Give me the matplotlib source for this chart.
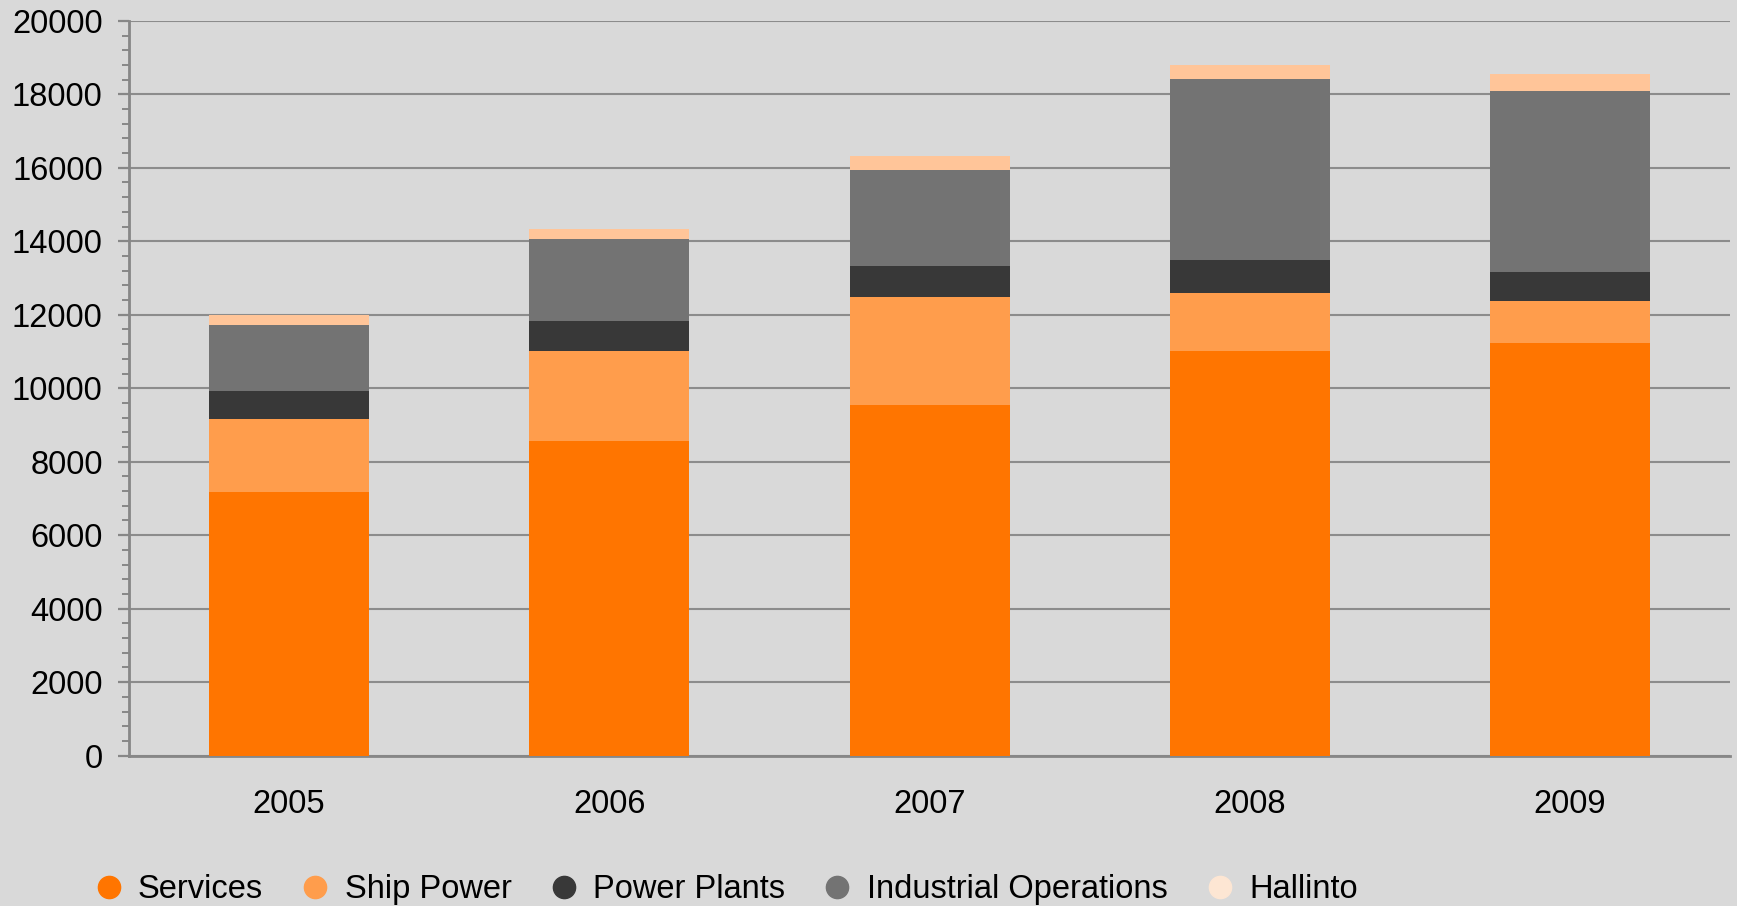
import numpy as np
import matplotlib
matplotlib.use("Agg")
import matplotlib.pyplot as plt
from matplotlib.lines import Line2D
from matplotlib.ticker import MultipleLocator

plt.rcParams['font.family'] = ['Liberation Sans', 'DejaVu Sans']

# data (segment heights)
years = ['2005', '2006', '2007', '2008', '2009']
services = [7170, 8550, 9550, 11010, 11230]
ship_power = [1980, 2470, 2920, 1580, 1140]
power_plants = [770, 820, 870, 910, 805]
industrial_ops = [1810, 2220, 2600, 4930, 4925]
hallinto = [250, 270, 380, 380, 440]

series_names = ['Services', 'Ship Power', 'Power Plants', 'Industrial Operations', 'Hallinto']
bar_colors = ['#FF7500', '#FF9D4C', '#383838', '#737373', '#FFC599']
legend_colors = ['#FF7500', '#FF9D4C', '#383838', '#737373', '#FDE6D3']

bg = '#D9D9D9'
axis_gray = '#878787'
fs = 23.5

fig = plt.figure(figsize=(17.37, 9.06), dpi=100, facecolor=bg)
ax = fig.add_axes([0.0743, 0.166, 0.9217, 0.811])
ax.set_facecolor(bg)

x = np.arange(len(years))
bottom = np.zeros(len(years))
for vals, col in zip([services, ship_power, power_plants, industrial_ops, hallinto], bar_colors):
    ax.bar(x, vals, width=0.5, bottom=bottom, color=col, zorder=3, linewidth=0)
    bottom += np.array(vals)

ax.set_xlim(-0.5, len(years) - 0.5)
ax.set_ylim(0, 20000)
ax.yaxis.set_major_locator(MultipleLocator(2000))
ax.yaxis.set_minor_locator(MultipleLocator(400))
ax.grid(axis='y', which='major', color='#8C8C8C', linewidth=1.5, zorder=1)

ax.set_xticks(x)
ax.set_xticklabels(years)
ax.tick_params(axis='x', length=0, pad=24, labelsize=fs)
ax.tick_params(axis='y', which='major', length=8, width=1.6, color=axis_gray, pad=11, labelsize=fs)
ax.tick_params(axis='y', which='minor', length=5, width=1.4, color=axis_gray)

for side in ['top', 'right']:
    ax.spines[side].set_visible(False)
for side in ['left', 'bottom']:
    ax.spines[side].set_color(axis_gray)
    ax.spines[side].set_linewidth(2)

handles = [Line2D([], [], linestyle='none', marker='o', markersize=16,
                  markerfacecolor=c, markeredgecolor=c) for c in legend_colors]
fig.legend(handles, series_names, loc='center left', bbox_to_anchor=(0.055, 0.018),
           ncol=5, frameon=False, fontsize=fs, handlelength=0.8, handletextpad=0.5,
           columnspacing=1.2, borderaxespad=0, borderpad=0)

fig.savefig('out.png', dpi=100, facecolor=bg)
